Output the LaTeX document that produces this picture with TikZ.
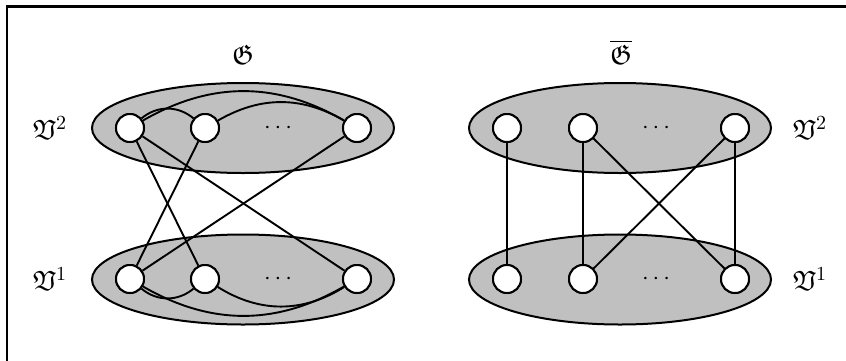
\documentclass[tikz,border=0pt]{standalone}
\usepackage{amssymb}
\usetikzlibrary{shapes.geometric}
\definecolor{setgray}{RGB}{192,192,192}
\begin{document}
\begin{tikzpicture}[x=0.5pt,y=-0.5pt,
  vset/.style={ellipse, draw, line width=1pt, fill=setgray, minimum width=151pt, minimum height=45pt, inner sep=0pt},
  vtx/.style={circle, draw, line width=1pt, fill=white, minimum size=14pt, inner sep=0pt},
  edge/.style={line width=0.95pt},
  lbl/.style={font=\fontsize{14}{16}\selectfont, inner sep=0pt},
  dotslbl/.style={font=\fontsize{13}{15}\selectfont, inner sep=0pt}]
\useasboundingbox (0,0) rectangle (846,360);
% frame
\coordinate (fbl) at (7,365);
\coordinate (ftl) at (7,6.5);
\coordinate (ftr) at (850,6.5);
\draw[line width=1.2pt] (fbl) -- (ftl) -- (ftr);
% sets
\node[vset] (S2) at (243,128) {};
\node[vset] (S1) at (243,279.5) {};
\node[vset] (T2) at (620,128) {};
\node[vset] (T1) at (620,279.5) {};
% labels
\node[lbl] (G) at (243,55) {$\mathfrak{G}$};
\node[lbl] (Gb) at (621,52) {$\overline{\mathfrak{G}}$};
\node[lbl] (L2) at (50,128) {$\mathfrak{V}^2$};
\node[lbl] (L1) at (50,279) {$\mathfrak{V}^1$};
\node[lbl] (R2) at (810,128) {$\mathfrak{V}^2$};
\node[lbl] (R1) at (810,279) {$\mathfrak{V}^1$};
\node[dotslbl] (d1) at (278,128) {$\cdots$};
\node[dotslbl] (d2) at (278,279) {$\cdots$};
\node[dotslbl] (d3) at (656,128) {$\cdots$};
\node[dotslbl] (d4) at (656,279) {$\cdots$};
% left graph
\node[vtx] (A1) at (130,128) {};
\node[vtx] (A2) at (205,128) {};
\node[vtx] (A3) at (357,128) {};
\node[vtx] (B1) at (130,279) {};
\node[vtx] (B2) at (205,279) {};
\node[vtx] (B3) at (357,279) {};
\draw[edge] (A1) to[bend left=40] (A2);
\draw[edge] (A2) to[bend left=30] (A3);
\draw[edge] (A1) to[bend left=30] (A3);
\draw[edge] (B1) to[bend right=40] (B2);
\draw[edge] (B2) to[bend right=32] (B3);
\draw[edge] (B1) to[bend right=30] (B3);
\draw[edge] (A1) -- (B2);
\draw[edge] (A1) -- (B3);
\draw[edge] (A2) -- (B1);
\draw[edge] (A3) -- (B1);
% right graph
\node[vtx] (C1) at (507,128) {};
\node[vtx] (C2) at (583,128) {};
\node[vtx] (C3) at (735,128) {};
\node[vtx] (D1) at (507,279) {};
\node[vtx] (D2) at (583,279) {};
\node[vtx] (D3) at (735,279) {};
\draw[edge] (C1) -- (D1);
\draw[edge] (C2) -- (D2);
\draw[edge] (C3) -- (D3);
\draw[edge] (C2) -- (D3);
\draw[edge] (C3) -- (D2);
% redraw vertices on top of edge ends
\foreach \n in {A1,A2,A3,B1,B2,B3,C1,C2,C3,D1,D2,D3}{
  \draw[line width=1pt, fill=white] (\n.center) circle (7pt);
}
\end{tikzpicture}
\end{document}
